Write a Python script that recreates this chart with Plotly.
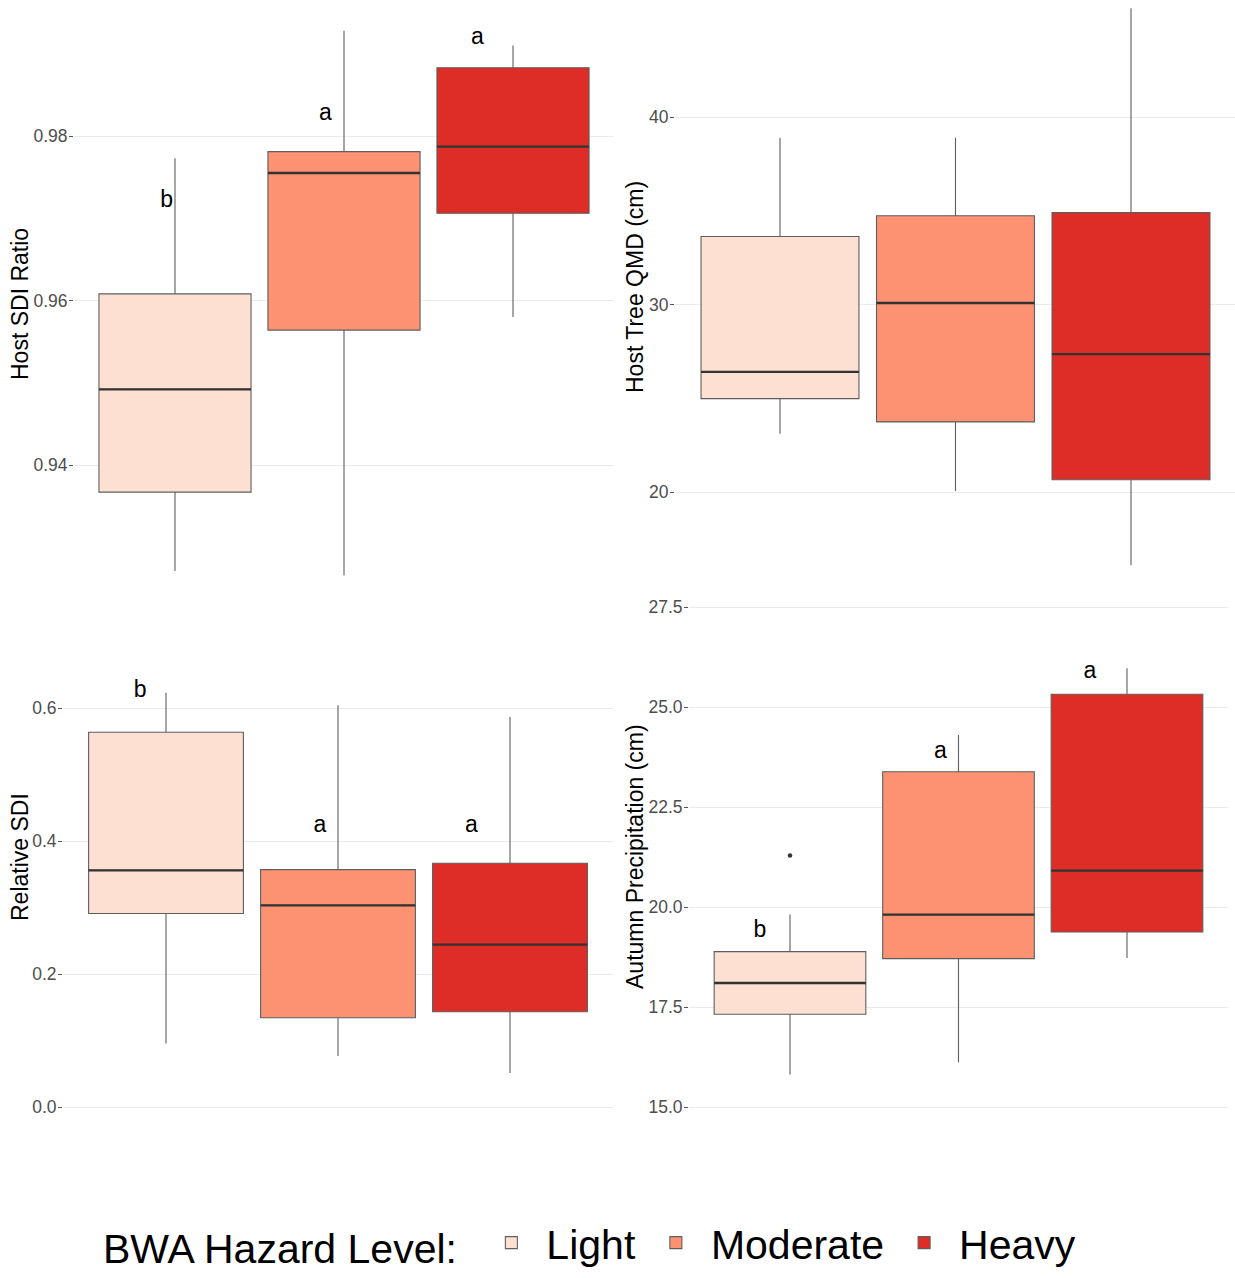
import plotly.graph_objects as go

PAGE_W, PAGE_H = 1235, 1278
W, H = PAGE_W, PAGE_H
FONT = "Liberation Sans, Arial, sans-serif"

levels = ["Light", "Moderate", "Heavy"]
colors = ["#FEE0D2", "#FC9272", "#DE2D26"]
positions = [1, 2, 3]

# Panel 1: Host SDI Ratio
ratio_low = [0.9271, 0.9266, 0.9580]
ratio_q1 = [0.9367, 0.9564, 0.9706]
ratio_med = [0.9492, 0.9755, 0.9787]
ratio_q3 = [0.9608, 0.9781, 0.9883]
ratio_high = [0.9773, 0.9928, 0.9910]
ratio_letters = ["b", "a", "a"]
ratio_letter_x = [0.95, 1.89, 2.79]
ratio_letter_y = [0.9721, 0.9826, 0.9919]

# Panel 2: Host Tree QMD (cm)
qmd_low = [23.11, 20.06, 16.09]
qmd_q1 = [24.98, 23.74, 20.65]
qmd_med = [26.41, 30.08, 27.35]
qmd_q3 = [33.63, 34.73, 34.90]
qmd_high = [38.89, 38.89, 45.80]
qmd_letters = []
qmd_letter_x = []
qmd_letter_y = []

# Panel 3: Relative SDI
rsdi_low = [0.0956, 0.0767, 0.0510]
rsdi_q1 = [0.2909, 0.1343, 0.1433]
rsdi_med = [0.3558, 0.3033, 0.2443]
rsdi_q3 = [0.5635, 0.3569, 0.3666]
rsdi_high = [0.6230, 0.6043, 0.5866]
rsdi_letters = ["b", "a", "a"]
rsdi_letter_x = [0.85, 1.895, 2.775]
rsdi_letter_y = [0.6256, 0.4226, 0.4226]

# Panel 4: Autumn Precipitation (cm)
precip_low = [15.81, 16.12, 18.725]
precip_q1 = [17.32, 18.71, 19.376]
precip_med = [18.10, 19.81, 20.91]
precip_q3 = [18.885, 23.38, 25.32]
precip_high = [19.81, 24.30, 25.97]
precip_outlier_x = [1]
precip_outlier_y = [21.29]
precip_letters = ["b", "a", "a"]
precip_letter_x = [0.822, 1.893, 2.78]
precip_letter_y = [19.40, 23.875, 25.875]


def axis_from_pixels(a, b, p1, v1, p2, v2, lo, hi):
    """Clip pixel span [a, b] to the visible window and return (domain px, range)."""
    a2, b2 = max(a, lo), min(b, hi)
    s = (v2 - v1) / (p2 - p1)
    return (a2, b2), (v1 + (a2 - p1) * s, v1 + (b2 - p1) * s)


def xaxis_px(left, right, c1, spacing):
    (a, b), (r0, r1) = axis_from_pixels(left, right, c1, 1, c1 + spacing, 2, 0, W)
    return [a / W, b / W], [r0, r1]


def yaxis_px(top, bottom, p1, v1, p2, v2):
    (a, b), (r_top, r_bot) = axis_from_pixels(top, bottom, p1, v1, p2, v2, 0, H)
    return [1 - b / H, 1 - a / H], [r_bot, r_top]


panels = [
    dict(title="Host SDI Ratio", low=ratio_low, q1=ratio_q1, med=ratio_med, q3=ratio_q3, high=ratio_high,
         letters=ratio_letters, lx=ratio_letter_x, ly=ratio_letter_y,
         xax=xaxis_px(74, 614, 175, 169), yax=yaxis_px(0, 602, 136, 0.98, 465, 0.94),
         tickvals=[0.94, 0.96, 0.98], ticktext=["0.94", "0.96", "0.98"], title_px=(20, 304)),
    dict(title="Host Tree QMD (cm)", low=qmd_low, q1=qmd_q1, med=qmd_med, q3=qmd_q3, high=qmd_high,
         letters=qmd_letters, lx=qmd_letter_x, ly=qmd_letter_y,
         xax=xaxis_px(675, 1236, 780, 175.5), yax=yaxis_px(0, 593, 117, 40, 492, 20),
         tickvals=[20, 30, 40], ticktext=["20", "30", "40"], title_px=(635, 287)),
    dict(title="Relative SDI", low=rsdi_low, q1=rsdi_q1, med=rsdi_med, q3=rsdi_q3, high=rsdi_high,
         letters=rsdi_letters, lx=rsdi_letter_x, ly=rsdi_letter_y,
         xax=xaxis_px(63, 613, 166, 172), yax=yaxis_px(582, 1132, 708, 0.6, 1107, 0.0),
         tickvals=[0.0, 0.2, 0.4, 0.6], ticktext=["0.0", "0.2", "0.4", "0.6"], title_px=(20, 857)),
    dict(title="Autumn Precipitation (cm)", low=precip_low, q1=precip_q1, med=precip_med, q3=precip_q3,
         high=precip_high, letters=precip_letters, lx=precip_letter_x, ly=precip_letter_y,
         xax=xaxis_px(689, 1228, 790, 168.5), yax=yaxis_px(582, 1132, 607, 27.5, 1107, 15.0),
         tickvals=[15.0, 17.5, 20.0, 22.5, 25.0, 27.5],
         ticktext=["15.0", "17.5", "20.0", "22.5", "25.0", "27.5"], title_px=(635, 857)),
]

fig = go.Figure()
BOXW = 0.9
layout_axes = {}
annotations = []

for pi, p in enumerate(panels):
    n = pi + 1
    xa = "x" if n == 1 else f"x{n}"
    ya = "y" if n == 1 else f"y{n}"
    for i, lev in enumerate(levels):
        fig.add_trace(go.Box(
            x=[positions[i]], q1=[p["q1"][i]], median=[p["med"][i]], q3=[p["q3"][i]],
            lowerfence=[p["low"][i]], upperfence=[p["high"][i]],
            width=BOXW, whiskerwidth=0, fillcolor=colors[i], line=dict(color="#5e5e5e", width=1.1),
            boxpoints=False, name=lev, legendgroup=lev, showlegend=(pi == 0),
            hoverinfo="skip", xaxis=xa, yaxis=ya,
        ))
    # thicker median lines
    mx, my = [], []
    for i in range(3):
        mx += [positions[i] - BOXW / 2, positions[i] + BOXW / 2, None]
        my += [p["med"][i], p["med"][i], None]
    fig.add_trace(go.Scatter(x=mx, y=my, mode="lines", line=dict(color="#333333", width=2.3),
                             showlegend=False, hoverinfo="skip", xaxis=xa, yaxis=ya))
    if p["letters"]:
        fig.add_trace(go.Scatter(x=p["lx"], y=p["ly"], mode="text", text=p["letters"],
                                 textfont=dict(family=FONT, size=23, color="black"),
                                 showlegend=False, hoverinfo="skip", xaxis=xa, yaxis=ya))
    if n == 4:
        fig.add_trace(go.Scatter(x=precip_outlier_x, y=precip_outlier_y, mode="markers",
                                 marker=dict(color="#333333", size=4.5),
                                 showlegend=False, hoverinfo="skip", xaxis=xa, yaxis=ya))
    xkey = "xaxis" if n == 1 else f"xaxis{n}"
    ykey = "yaxis" if n == 1 else f"yaxis{n}"
    xdom, xrng = p["xax"]
    ydom, yrng = p["yax"]
    layout_axes[xkey] = dict(domain=xdom, range=xrng, showgrid=False, zeroline=False,
                             showticklabels=False, ticks="", showline=False, anchor=ya, fixedrange=True)
    layout_axes[ykey] = dict(domain=ydom, range=yrng, tickvals=p["tickvals"],
                             ticktext=p["ticktext"], showgrid=True, gridcolor="#EBEBEB", gridwidth=1.1,
                             zeroline=False, showline=False, ticks="outside", ticklen=4,
                             tickcolor="#555555", tickwidth=1, ticklabelstandoff=-2,
                             tickfont=dict(family=FONT, size=17.5, color="#4D4D4D"),
                             anchor=xa, automargin=False, fixedrange=True)
    tx, ty = p["title_px"]
    annotations.append(dict(text=p["title"], x=tx / W, y=1 - ty / H,
                            xref="paper", yref="paper",
                            xanchor="center", yanchor="middle", textangle=-90, showarrow=False,
                            font=dict(family=FONT, size=23, color="black")))

fig.update_layout(
    width=W, height=H,
    # autoexpand off: the bottom legend must not shrink the plotting area
    margin=dict(l=0, r=0, t=0, b=0, autoexpand=False),
    paper_bgcolor="white", plot_bgcolor="white",
    boxmode="overlay",
    annotations=annotations,
    legend=dict(orientation="h", x=591 / W, xanchor="center", y=1 - 1243 / H,
                yanchor="middle",
                title=dict(text="BWA Hazard Level: ", side="left",
                           font=dict(family=FONT, size=41, color="black")),
                font=dict(family=FONT, size=41, color="black"),
                itemwidth=60, bgcolor="rgba(0,0,0,0)"),
    font=dict(family=FONT),
    **layout_axes,
)

page_css = (
    "var s=document.createElement('style');"
    "s.textContent='html,body{margin:0;padding:0;overflow:hidden;}';"
    "document.head.appendChild(s);"
)
fig.write_html("out.html", config={"displayModeBar": False}, post_script=page_css)
